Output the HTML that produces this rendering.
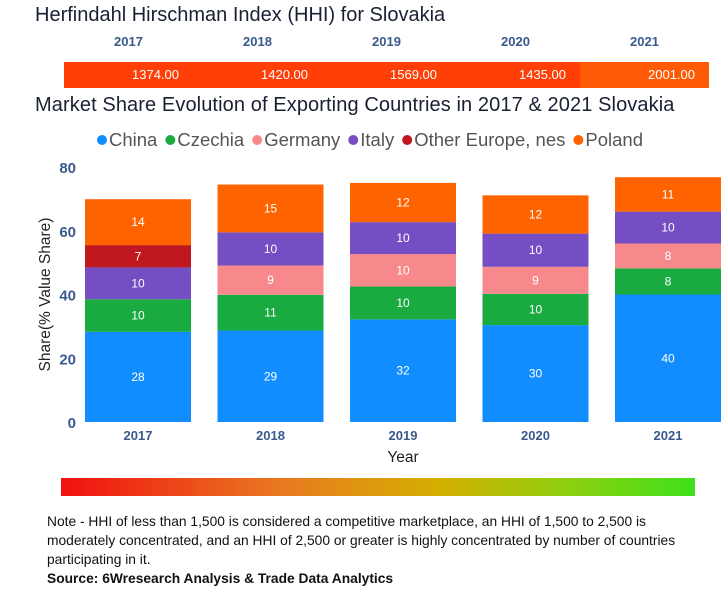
<!DOCTYPE html>
<html><head><meta charset="utf-8"><style>
body{margin:0;width:721px;height:600px;background:#fff;font-family:"Liberation Sans","DejaVu Sans",sans-serif;position:relative;overflow:hidden}
.abs{position:absolute}
</style></head><body>
<div class="abs" style="left:35px;top:4px;font-size:20px;color:#1a2033">Herfindahl Hirschman Index (HHI) for Slovakia</div>
<div id="hhi"></div>
<div class="abs" style="left:35px;top:94px;font-size:20px;color:#1a2033;letter-spacing:0.1px">Market Share Evolution of Exporting Countries in 2017 &amp; 2021 Slovakia</div>
<svg id="chart" class="abs" style="left:0;top:120px" width="721" height="360"></svg>
<div class="abs" style="left:61px;top:478px;width:634px;height:18px;background:linear-gradient(90deg,#f21010,#e87a20 35%,#d4b000 60%,#8ed010 80%,#3ee01a)"></div>
<div class="abs" style="left:47px;top:512px;width:668px;font-size:13.8px;line-height:19px;color:#111">Note - HHI of less than 1,500 is considered a competitive marketplace, an HHI of 1,500 to 2,500 is moderately concentrated, and an HHI of 2,500 or greater is highly concentrated by number of countries participating in it.<br><b>Source: 6Wresearch Analysis &amp; Trade Data Analytics</b></div>
<script>
const years=["2017","2018","2019","2020","2021"];
const hhi=[1374,1420,1569,1435,2001];
const seriesNames=["China","Czechia","Germany","Italy","Other Europe, nes","Poland"];
const colors=["#118dff","#1aab40","#f7888b","#744ec2","#c0161e","#ff6300"];
const china=[28.3,28.7,32.2,30.4,40];
const czechia=[10.2,11.2,10.3,9.8,8.2];
const germany=[0,9.2,10.2,8.5,7.8];
const italy=[10,10.4,10,10.4,10];
const otherEurope=[7,0,0,0,0];
const poland=[14.4,15,12.3,12,10.8];
const yTicks=[0,20,40,60,80];
const series=[china,czechia,germany,italy,otherEurope,poland];
const ns="http://www.w3.org/2000/svg";
const strip=document.getElementById('hhi');
strip.style.cssText="position:absolute;left:0;top:0";
const x0=64,segW=129;
years.forEach((y,i)=>{
 const l=document.createElement('div');
 
 
 l.style.cssText=`position:absolute;left:${x0+i*segW}px;top:34px;width:${segW}px;text-align:center;font-size:13px;font-weight:bold;color:#3a5a8c`;
 l.textContent=y;strip.appendChild(l);
 const c=document.createElement('div');
 
 
 const col=hhi[i]>1800?'#ff5a05':'#ff3e08';
 c.style.cssText=`position:absolute;left:${x0+i*segW}px;top:62px;width:${segW}px;height:26px;background:${col};color:#fff;font-size:13px;line-height:26px;text-align:right;box-sizing:border-box;padding-right:14px`;
 c.textContent=hhi[i].toFixed(2);strip.appendChild(c);
});
const svg=document.getElementById('chart');
const yOff=120, y0=422-yOff, pxPer=255/80;
const ys=v=>y0-v*pxPer;
const xs=i=>85+i*132.5;
const bw=106;
function el(t,a,txt){const e=document.createElementNS(ns,t);for(const k in a)e.setAttribute(k,a[k]);if(txt!=null)e.textContent=txt;svg.appendChild(e);return e;}
let lx=97;
seriesNames.forEach((n,i)=>{
 const c=el('circle',{cx:lx+5,cy:20,r:5,fill:colors[i]});
 
 
 const t=el('text',{x:lx+12,y:26,'font-size':18.5,fill:'#555'},n);
 
 
 lx+=12+t.getComputedTextLength()+8;
});
yTicks.forEach(v=>{
 const t=el('text',{x:76,y:ys(v)+6,'text-anchor':'end','font-size':15,'font-weight':'bold',fill:'#3a5a8c'},v);
 
 
});
const yt=el('text',{x:0,y:0,transform:`translate(50,${ys(40)}) rotate(-90)`,'text-anchor':'middle','font-size':15.5,fill:'#222'},'Share(% Value Share)');


years.forEach((y,i)=>{
 let cum=0;
 series.forEach((s,k)=>{
  const v=s[i]; if(!v){return;}
  const r=el('rect',{x:xs(i),y:ys(cum+v),width:bw,height:v*pxPer,fill:colors[k]});
  
  
  const t=el('text',{x:xs(i)+bw/2,y:ys(cum+v/2)+4,'text-anchor':'middle','font-size':12,fill:'#fff'},Math.round(v));
  
  
  cum+=v;
 });
 const t=el('text',{x:xs(i)+bw/2,y:y0+18,'text-anchor':'middle','font-size':13,'font-weight':'bold',fill:'#3a5a8c'},y);
 
 
});
const xt=el('text',{x:403,y:342,'text-anchor':'middle','font-size':15.5,fill:'#222'},'Year');


</script>
</body></html>
